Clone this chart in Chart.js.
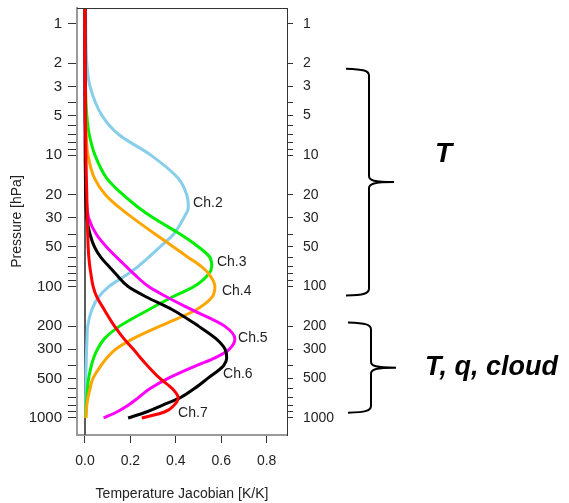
<!DOCTYPE html>
<html><head><meta charset="utf-8">
<script src="https://cdn.jsdelivr.net/npm/chart.js@4/dist/chart.umd.min.js"></script>
<style>html,body{margin:0;padding:0;background:#fff}canvas{display:block}</style>
</head><body>
<canvas id="c" width="569" height="503"></canvas>
<script>
// ---- data ----
const pressure = [0.7, 1, 2, 3, 5, 7, 10, 15, 20, 25, 30, 40, 50, 60, 70, 80, 100, 120, 150, 200, 250, 300, 350, 400, 500, 600, 700, 800, 900, 1000];
const ch2 = [0.002, 0.003, 0.008, 0.022, 0.075, 0.15, 0.29, 0.41, 0.448, 0.455, 0.435, 0.39, 0.33, 0.28, 0.235, 0.19, 0.105, 0.06, 0.03, 0.012, 0.009, 0.007, 0.006, 0.005, 0.004, 0.004, 0.003, 0.003, 0.002, 0.002];
const ch3 = [0, 0.001, 0.001, 0.002, 0.008, 0.019, 0.044, 0.096, 0.167, 0.235, 0.30, 0.42, 0.50, 0.55, 0.558, 0.545, 0.48, 0.385, 0.28, 0.153, 0.085, 0.055, 0.038, 0.028, 0.016, 0.011, 0.008, 0.005, 0.004, 0.003];
const ch4 = [0, 0, 0, 0.001, 0.002, 0.005, 0.013, 0.042, 0.09, 0.15, 0.21, 0.31, 0.39, 0.455, 0.51, 0.545, 0.572, 0.56, 0.49, 0.33, 0.21, 0.135, 0.096, 0.07, 0.035, 0.022, 0.013, 0.008, 0.006, 0.004];
const ch5 = [0, 0, 0, 0, 0.001, 0.001, 0.002, 0.003, 0.005, 0.009, 0.016, 0.05, 0.095, 0.14, 0.18, 0.215, 0.28, 0.36, 0.47, 0.615, 0.66, 0.635, 0.57, 0.49, 0.366, 0.285, 0.235, 0.19, 0.14, 0.082];
const ch6 = [0, 0, 0, 0, 0, 0.001, 0.001, 0.002, 0.003, 0.005, 0.008, 0.022, 0.042, 0.07, 0.105, 0.135, 0.19, 0.27, 0.385, 0.5, 0.578, 0.617, 0.624, 0.61, 0.54, 0.48, 0.42, 0.34, 0.27, 0.19];
const ch7 = [0, 0, 0, 0.001, 0.002, 0.003, 0.004, 0.006, 0.008, 0.009, 0.01, 0.012, 0.014, 0.017, 0.021, 0.026, 0.036, 0.052, 0.085, 0.13, 0.172, 0.213, 0.245, 0.275, 0.33, 0.385, 0.41, 0.392, 0.35, 0.25];

const channelNames = ['Ch.2', 'Ch.3', 'Ch.4', 'Ch.5', 'Ch.6', 'Ch.7'];
const labelX = [0.476, 0.581, 0.603, 0.674, 0.608, 0.41];
const labelP = [23, 64.7, 109, 245, 460, 911];

const yTickValues = [1, 2, 3, 4, 5, 6, 7, 8, 9, 10, 20, 30, 40, 50, 60, 70, 80, 90, 100, 200, 300, 400, 500, 600, 700, 800, 900, 1000];
const yTickLabels = [1, 2, 3, 5, 10, 20, 30, 50, 100, 200, 300, 500, 1000];
const xTickValues = [0, 0.2, 0.4, 0.6, 0.8];

const braceTop = [2.2, 188];
const braceBottom = [117, 911];
const braceLabels = ['T', 'T, q, cloud'];

// ---- styles ----
const FONT = '"Liberation Sans", Arial, Helvetica, sans-serif';
const colors = ['#87CEEB', '#00EE00', '#FFA500', '#FF00FF', '#000000', '#FF0000'];
const seriesList = [ch2, ch3, ch4, ch5, ch6, ch7];

const datasets = seriesList.map((vals, i) => ({
  label: channelNames[i],
  data: pressure.map((p, k) => ({ x: vals[k], y: p })),
  borderColor: colors[i],
  borderWidth: 3,
  pointRadius: 0,
  cubicInterpolationMode: 'monotone',
  order: seriesList.length - i
}));

function drawBrace(ctx, xa, xs, xt, yt, yb) {
  const ym = (yt + yb) / 2;
  ctx.beginPath();
  ctx.moveTo(xa, yt);
  ctx.bezierCurveTo(xs - 5, yt + 0.5, xs, yt + 2, xs, yt + 7);
  ctx.lineTo(xs, ym - 6);
  ctx.bezierCurveTo(xs, ym - 1.5, xs + 5, ym, xt, ym);
  ctx.moveTo(xt, ym);
  ctx.bezierCurveTo(xs + 5, ym, xs, ym + 1.5, xs, ym + 6);
  ctx.lineTo(xs, yb - 7);
  ctx.bezierCurveTo(xs, yb - 2, xs - 5, yb - 0.5, xa, yb);
  ctx.stroke();
}

const overlay = {
  id: 'overlay',
  beforeDatasetsDraw(chart) {
    const { ctx, chartArea: a, scales: { x } } = chart;
    const x0 = x.getPixelForValue(0);
    ctx.save();
    ctx.strokeStyle = '#5c5c5c';
    ctx.lineWidth = 2;
    ctx.beginPath();
    ctx.moveTo(x0, a.top);
    ctx.lineTo(x0, a.bottom);
    ctx.stroke();
    ctx.restore();
  },
  afterDraw(chart) {
    const { ctx, chartArea: a, scales: { x, y } } = chart;
    ctx.save();
    ctx.strokeStyle = '#333';
    ctx.lineWidth = 1;
    ctx.beginPath();
    ctx.moveTo(a.left, Math.round(a.top) + 0.5);
    ctx.lineTo(a.right, Math.round(a.top) + 0.5);
    ctx.stroke();
    ctx.fillStyle = '#222';
    ctx.font = '14px ' + FONT;
    ctx.textAlign = 'left';
    ctx.textBaseline = 'middle';
    channelNames.forEach((n, i) => {
      ctx.fillText(n, x.getPixelForValue(labelX[i]), y.getPixelForValue(labelP[i]));
    });
    ctx.strokeStyle = '#000';
    ctx.lineWidth = 2;
    ctx.fillStyle = '#000';
    ctx.textBaseline = 'alphabetic';
    braceTop.forEach((pt, i) => {
      const yt = y.getPixelForValue(pt);
      const yb = y.getPixelForValue(braceBottom[i]);
      const ym = (yt + yb) / 2;
      const xa = a.right + 59 + i * 2;
      const xs = a.right + 82 + i * 2;
      const xt = a.right + 107 + i * 2;
      drawBrace(ctx, xa, xs, xt, yt, yb);
      if (i === 0) {
        ctx.font = 'italic bold 28px ' + FONT;
        ctx.fillText(braceLabels[i], a.right + 148, ym - 20.5);
      } else {
        ctx.font = 'italic bold 27px ' + FONT;
        ctx.fillText(braceLabels[i], a.right + 138, ym + 7);
      }
    });
    ctx.restore();
  }
};

const yCommon = (pos) => ({
  type: 'logarithmic',
  position: pos,
  reverse: true,
  min: 0.7596,
  max: 1347,
  afterBuildTicks: s => { s.ticks = yTickValues.map(v => ({ value: v })); },
  grid: { drawOnChartArea: false, drawTicks: true, tickLength: pos === 'left' ? 9 : 6, tickColor: '#333', tickWidth: 1 },
  ticks: {
    autoSkip: false,
    padding: pos === 'left' ? 6 : 10,
    color: '#222',
    font: { family: FONT, size: pos === 'left' ? 15 : 14 },
    callback: v => yTickLabels.includes(v) ? String(v) : ''
  }
});

new Chart(document.getElementById('c'), {
  type: 'line',
  data: { datasets },
  options: {
    responsive: false,
    animation: false,
    indexAxis: 'y',
    layout: { padding: { top: 8, left: 0, right: 0, bottom: 0 } },
    plugins: { legend: { display: false }, tooltip: { enabled: false } },
    scales: {
      x: {
        type: 'linear',
        position: 'bottom',
        min: -0.0352,
        max: 0.8895,
        afterBuildTicks: s => { s.ticks = xTickValues.map(v => ({ value: v })); },
        afterFit: s => { s.height = 68; s.paddingLeft = 0; s.paddingRight = 0; },
        grid: { drawOnChartArea: false, drawTicks: true, tickLength: 8, tickColor: '#333', tickWidth: 1 },
        border: { display: true, color: '#9a9a9a', width: 2 },
        ticks: { autoSkip: false, maxRotation: 0, padding: 10, color: '#222', font: { family: FONT, size: 14 }, callback: v => Number(v).toFixed(1) },
        title: { display: true, text: 'Temperature Jacobian [K/K]', color: '#222', font: { family: FONT, size: 14 }, padding: { top: 0, bottom: 0 } }
      },
      y: Object.assign(yCommon('left'), {
        afterFit: s => { s.width = 77; s.paddingTop = 0; s.paddingBottom = 0; },
        border: { display: true, color: '#9a9a9a', width: 2 },
        title: { display: true, text: 'Pressure [hPa]', color: '#222', font: { family: FONT, size: 14 }, padding: { top: 9, bottom: 0 } }
      }),
      y2: Object.assign(yCommon('right'), {
        afterFit: s => { s.width = 282; s.paddingTop = 0; s.paddingBottom = 0; },
        border: { display: true, color: '#333', width: 1 }
      })
    }
  },
  plugins: [overlay]
});
</script>
</body></html>
